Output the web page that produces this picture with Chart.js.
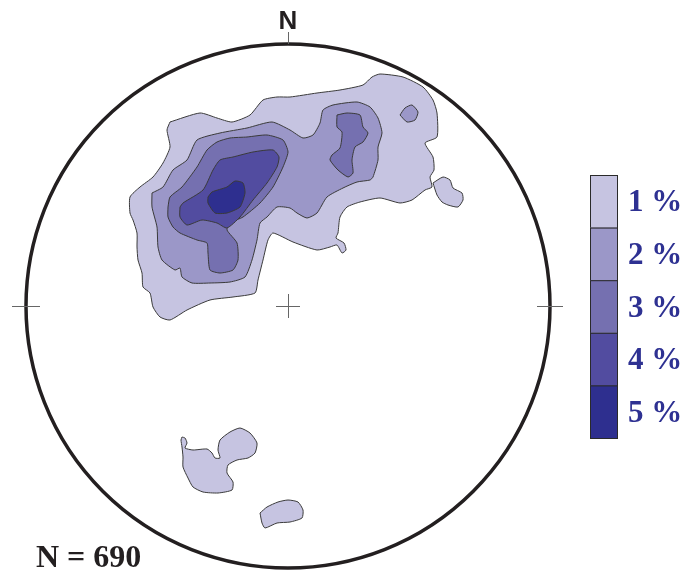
<!DOCTYPE html>
<html lang="en">
<head>
  <meta charset="UTF-8">
  <title>Pole density stereonet</title>
  <script src="https://cdn.jsdelivr.net/npm/chart.js"></script>
  <style>
    body { margin: 0; background: #ffffff; }
    #wrap { width: 683px; height: 573px; position: relative; }
  </style>
</head>
<body>
<div id="wrap"><canvas id="net" width="683" height="573"></canvas></div>
<script>
  // net radius in the units used for the contour vertices (centre = 0,0, north = +y)
  const NET_R = 262;
  const sampleCount = 690;

  const levelLabels = ["1 %", "2 %", "3 %", "4 %", "5 %"];
  const levelColors = ["#c6c4e1", "#9b97c8", "#7570b0", "#524ca0", "#2e2f8f"];

  // contour polygons, [x, y] vertices
  const c1Main = [[-118,184],[-88,193],[-71,188],[-56,184],[-38,191],[-25,206],[-11,209],[2,209],[29,213],[52,216],[75,221],[84,229],[92,232],[115,229],[135,219],[145,206],[149,193],[149,169],[137,163],[145,149],[146,136],[142,129],[144,119],[137,116],[124,106],[112,103],[92,108],[72,104],[59,99],[52,89],[50,73],[48,68],[56,63],[58,56],[54,53],[49,61],[42,59],[29,56],[5,64],[-15,73],[-20,66],[-25,46],[-30,26],[-33,13],[-55,9],[-78,6],[-101,-4],[-118,-14],[-128,-11],[-135,-1],[-138,13],[-145,19],[-146,33],[-150,46],[-151,59],[-151,73],[-155,86],[-158,93],[-158,109],[-148,119],[-135,129],[-125,143],[-118,159],[-121,176]];
  const c1East = [[145,123],[155,129],[162,126],[165,118],[174,113],[175,106],[170,99],[160,101],[154,104],[149,111]];
  const c1SouthA = [[-106,-131],[-103,-132],[-101,-137],[-103,-142],[-95,-144],[-81,-143],[-76,-147],[-73,-152],[-68,-152],[-70,-144],[-68,-134],[-58,-126],[-48,-122],[-38,-127],[-31,-137],[-33,-147],[-40,-152],[-51,-154],[-60,-159],[-61,-167],[-55,-176],[-56,-184],[-70,-187],[-85,-186],[-95,-181],[-100,-172],[-105,-161],[-105,-151],[-106,-141],[-107,-134]];
  const c1SouthB = [[-28,-207],[-21,-201],[-10,-196],[0,-194],[10,-196],[15,-204],[14,-212],[2,-216],[-11,-217],[-23,-222],[-26,-217]];
  const c2Main = [[-136,113],[-125,119],[-115,136],[-101,146],[-91,166],[-68,173],[-41,178],[-16,184],[2,176],[15,168],[25,171],[32,183],[35,196],[45,201],[69,204],[82,199],[90,188],[94,173],[90,159],[90,146],[85,129],[82,126],[69,124],[55,118],[39,109],[29,93],[19,88],[9,93],[2,98],[-11,99],[-21,89],[-28,83],[-31,66],[-36,46],[-43,29],[-58,24],[-78,23],[-96,23],[-106,29],[-108,38],[-113,36],[-126,46],[-130,59],[-131,79],[-136,99]];
  const c2Islet = [[112,191],[117,198],[124,201],[130,194],[127,186],[119,184]];
  const c3Main = [[-120,99],[-118,109],[-106,119],[-91,139],[-81,156],[-71,164],[-58,168],[-41,169],[-21,171],[-5,166],[0,154],[-5,139],[-15,119],[-28,103],[-45,89],[-58,83],[-61,76],[-51,63],[-50,46],[-55,36],[-68,33],[-78,36],[-80,53],[-81,63],[-91,66],[-108,73],[-115,79],[-120,89]];
  const c3East = [[49,191],[59,193],[72,191],[75,179],[80,173],[75,164],[67,159],[64,146],[65,133],[60,129],[50,136],[42,146],[44,151],[52,158],[54,174],[49,179]];
  const c4Main = [[-108,99],[-105,103],[-85,116],[-75,136],[-68,146],[-55,149],[-35,154],[-15,156],[-9,149],[-11,139],[-21,123],[-35,106],[-48,89],[-61,78],[-71,83],[-86,86],[-101,81],[-108,89]];
  const c5Main = [[-80,109],[-76,114],[-61,119],[-53,125],[-45,123],[-43,113],[-48,99],[-61,93],[-73,93],[-80,103]];

  const contours = [
    { level: 0, pts: c1Main }, { level: 0, pts: c1East }, { level: 0, pts: c1SouthA }, { level: 0, pts: c1SouthB },
    { level: 1, pts: c2Main }, { level: 1, pts: c2Islet },
    { level: 2, pts: c3Main }, { level: 2, pts: c3East },
    { level: 3, pts: c4Main },
    { level: 4, pts: c5Main }
  ];

  const datasets = contours.map((c) => {
    const data = c.pts.map((p) => ({ x: p[0], y: p[1] }));
    data.push({ x: c.pts[0][0], y: c.pts[0][1] });
    return {
      data: data,
      showLine: true,
      fill: "shape",
      backgroundColor: levelColors[c.level],
      borderColor: "#3a3a3a",
      borderWidth: 1,
      pointRadius: 0,
      tension: 0.2,
      order: 10 - c.level,
      clip: false
    };
  });

  // outline, ticks, centre cross, labels and the colour key
  const netFrame = {
    id: "netFrame",
    afterDraw(chart) {
      const ctx = chart.ctx;
      const xs = chart.scales.x, ys = chart.scales.y;
      const cx = xs.getPixelForValue(0), cy = ys.getPixelForValue(0);
      const r = xs.getPixelForValue(NET_R) - cx;
      ctx.save();
      ctx.strokeStyle = "#231f20";
      ctx.lineWidth = 3.5;
      ctx.beginPath();
      ctx.arc(cx, cy, r, 0, Math.PI * 2);
      ctx.stroke();

      ctx.strokeStyle = "#666";
      ctx.lineWidth = 1;
      ctx.beginPath();
      ctx.moveTo(cx - r - 14, cy + 0.5); ctx.lineTo(cx - r + 14, cy + 0.5);
      ctx.moveTo(cx + r - 13, cy + 0.5); ctx.lineTo(cx + r + 13, cy + 0.5);
      ctx.moveTo(cx + 0.5, cy - r - 12); ctx.lineTo(cx + 0.5, cy - r);
      ctx.moveTo(cx - 12, cy + 0.5); ctx.lineTo(cx + 12, cy + 0.5);
      ctx.moveTo(cx + 0.5, cy - 12); ctx.lineTo(cx + 0.5, cy + 12);
      ctx.stroke();

      ctx.fillStyle = "#231f20";
      ctx.font = "bold 26px 'Liberation Sans', Arial, sans-serif";
      ctx.textAlign = "center";
      ctx.textBaseline = "alphabetic";
      ctx.fillText("N", cx, cy - r - 15);

      ctx.font = "bold 32px 'Liberation Serif', 'Times New Roman', serif";
      ctx.textAlign = "left";
      ctx.fillText("N = " + sampleCount, 36, 567);

      // colour key
      const kx = 590, ky = 175, kw = 27, kh = 52.6;
      ctx.font = "bold 31px 'Liberation Serif', 'Times New Roman', serif";
      ctx.textBaseline = "middle";
      levelLabels.forEach((lab, i) => {
        ctx.fillStyle = levelColors[i];
        ctx.fillRect(kx, ky + i * kh, kw, kh);
        ctx.strokeStyle = "#2a2a2a";
        ctx.lineWidth = 1;
        ctx.strokeRect(kx + 0.5, ky + i * kh + 0.5, kw, kh);
        ctx.fillStyle = "#2e3192";
        ctx.fillText(lab, 628, ky + i * kh + kh / 2 + 2);
      });
      ctx.restore();
    }
  };

  new Chart(document.getElementById("net"), {
    type: "scatter",
    data: { datasets: datasets },
    options: {
      responsive: false,
      animation: false,
      devicePixelRatio: 1,
      layout: { padding: { left: 26, right: 133, top: 44, bottom: 5 } },
      scales: {
        x: { type: "linear", min: -NET_R, max: NET_R, display: false },
        y: { type: "linear", min: -NET_R, max: NET_R, display: false }
      },
      plugins: { legend: { display: false }, tooltip: { enabled: false } }
    },
    plugins: [netFrame]
  });
</script>
</body>
</html>
